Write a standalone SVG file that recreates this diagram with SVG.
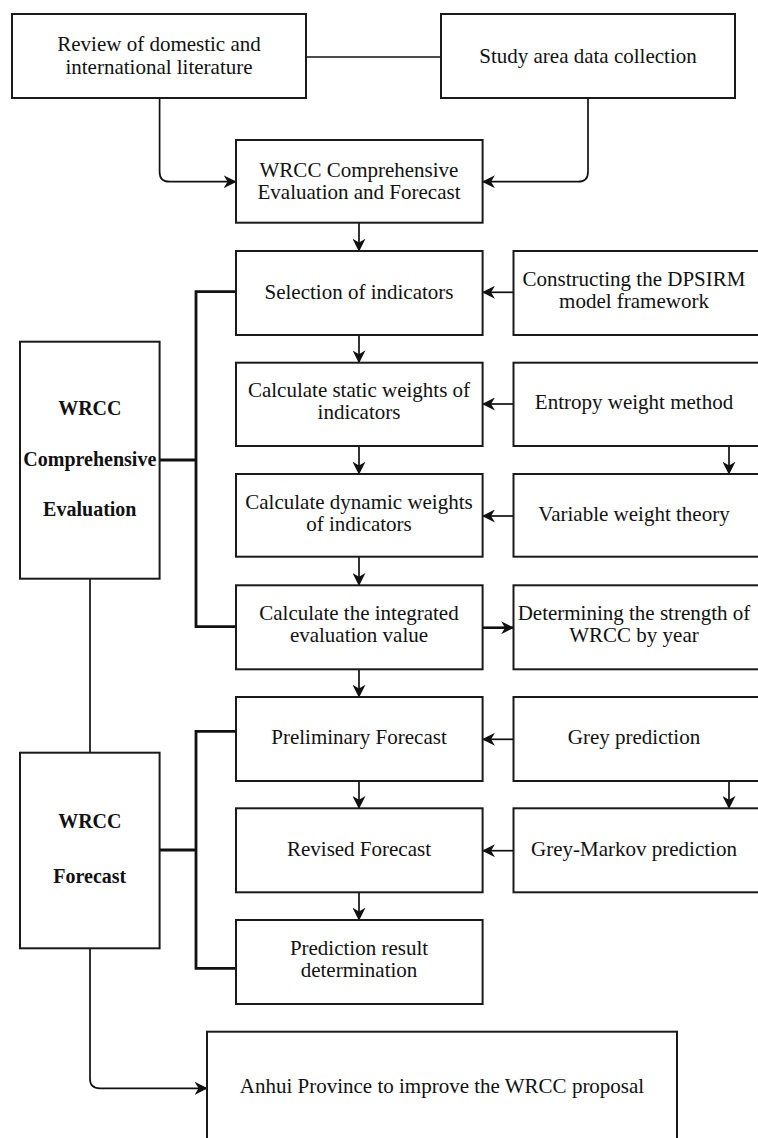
<svg xmlns="http://www.w3.org/2000/svg" width="758" height="1138" viewBox="0 0 758 1138">
<style>
.box{fill:#fff;stroke:#1a1a1a;stroke-width:2}
.t{font-family:"Liberation Serif","Times New Roman",serif;font-size:21px;fill:#111;text-anchor:middle}
.b{font-family:"Liberation Serif","Times New Roman",serif;font-size:20px;font-weight:bold;fill:#111;text-anchor:middle}
.c{fill:none;stroke:#111;stroke-width:1.7}
.ca{fill:none;stroke:#111;stroke-width:1.7;marker-end:url(#ah)}
.br{fill:none;stroke:#111;stroke-width:2.8}
</style>
<defs>
<marker id="ah" viewBox="0 0 10 10" refX="9.5" refY="5" markerWidth="13" markerHeight="13" markerUnits="userSpaceOnUse" orient="auto">
<path d="M0,0 L10,5 L0,10 L3,5 Z" fill="#111"/>
</marker>
</defs>
<rect width="758" height="1138" fill="#fff"/>
<g id="connectors">
<path class="c" d="M306,57 H441"/>
<path class="ca" d="M159.6,98 V172 Q159.6,181.7 169.5,181.7 H236"/>
<path class="ca" d="M588,98 V172 Q588,181.7 578,181.7 H482.6"/>
<path class="ca" d="M359,223 V251"/>
<path class="ca" d="M513.5,292.3 H482.6"/>
<path class="ca" d="M359,335 V362.7"/>
<path class="ca" d="M513.5,404 H482.6"/>
<path class="ca" d="M729,446 V474"/>
<path class="ca" d="M359,446 V474"/>
<path class="ca" d="M513.5,516 H482.6"/>
<path class="ca" d="M359,557 V585.3"/>
<path class="br" d="M236,291.7 H196 V626.7 H236"/>
<path class="br" d="M159.6,460 H196"/>
<path class="ca" style="stroke-width:2.6" d="M482.6,627.7 H513.5"/>
<path class="ca" d="M359,669.3 V697"/>
<path class="ca" d="M513.5,739.3 H482.6"/>
<path class="ca" d="M359,781 V808.3"/>
<path class="ca" d="M729,781 V808.3"/>
<path class="ca" d="M513.5,850.7 H482.6"/>
<path class="ca" d="M359,892.3 V920"/>
<path class="c" d="M90,578.7 V752.7"/>
<path class="br" d="M236,731.3 H196 V968.3 H236"/>
<path class="br" d="M159.6,850 H196"/>
<path class="ca" d="M90,948.3 V1079 Q90,1088.3 100,1088.3 H207"/>
</g>
<g id="review"><rect class="box" x="12" y="14" width="294" height="84"/><text class="t" x="159" y="51">Review of domestic and</text><text class="t" x="159" y="73.5">international literature</text></g>
<g id="study"><rect class="box" x="441" y="14" width="294" height="84"/><text class="t" x="588" y="63">Study area data collection</text></g>
<g id="wrcc-main"><rect class="box" x="236" y="140" width="246.6" height="82.7"/><text class="t" x="359" y="177">WRCC Comprehensive</text><text class="t" x="359" y="199">Evaluation and Forecast</text></g>
<g id="selection"><rect class="box" x="236" y="251" width="246.6" height="84"/><text class="t" x="359" y="299">Selection of indicators</text></g>
<g id="dpsirm"><rect class="box" x="513.5" y="251" width="250" height="84"/><text class="t" x="634" y="285.5">Constructing the DPSIRM</text><text class="t" x="634" y="308">model framework</text></g>
<g id="static"><rect class="box" x="236" y="362.7" width="246.6" height="83.3"/><text class="t" x="359" y="397">Calculate static weights of</text><text class="t" x="359" y="419">indicators</text></g>
<g id="entropy"><rect class="box" x="513.5" y="362.7" width="250" height="83.3"/><text class="t" x="634" y="409">Entropy weight method</text></g>
<g id="dynamic"><rect class="box" x="236" y="474" width="246.6" height="82.7"/><text class="t" x="359" y="508.5">Calculate dynamic weights</text><text class="t" x="359" y="530.5">of indicators</text></g>
<g id="variable"><rect class="box" x="513.5" y="474" width="250" height="82.7"/><text class="t" x="634" y="520.5">Variable weight theory</text></g>
<g id="integrated"><rect class="box" x="236" y="585.3" width="246.6" height="84"/><text class="t" x="359" y="620">Calculate the integrated</text><text class="t" x="359" y="642">evaluation value</text></g>
<g id="strength"><rect class="box" x="513.5" y="585.3" width="250" height="84"/><text class="t" x="634" y="620">Determining the strength of</text><text class="t" x="634" y="642">WRCC by year</text></g>
<g id="preliminary"><rect class="box" x="236" y="697" width="246.6" height="84"/><text class="t" x="359" y="744">Preliminary Forecast</text></g>
<g id="grey"><rect class="box" x="513.5" y="697" width="250" height="84"/><text class="t" x="634" y="744">Grey prediction</text></g>
<g id="revised"><rect class="box" x="236" y="808.3" width="246.6" height="84"/><text class="t" x="359" y="855.5">Revised Forecast</text></g>
<g id="greymarkov"><rect class="box" x="513.5" y="808.3" width="250" height="84"/><text class="t" x="634" y="855.5">Grey-Markov prediction</text></g>
<g id="result"><rect class="box" x="236" y="920" width="246.6" height="84"/><text class="t" x="359" y="955">Prediction result</text><text class="t" x="359" y="977">determination</text></g>
<g id="eval"><rect class="box" x="20" y="341.7" width="139.6" height="237"/><text class="b" x="89.8" y="415">WRCC</text><text class="b" x="89.8" y="466">Comprehensive</text><text class="b" x="89.8" y="515.5">Evaluation</text></g>
<g id="forecast"><rect class="box" x="20" y="752.7" width="139.6" height="195.6"/><text class="b" x="89.8" y="828">WRCC</text><text class="b" x="89.8" y="883">Forecast</text></g>
<g id="anhui"><rect class="box" x="207" y="1031.7" width="470" height="130"/><text class="t" x="442" y="1093.3">Anhui Province to improve the WRCC proposal</text></g>
</svg>
